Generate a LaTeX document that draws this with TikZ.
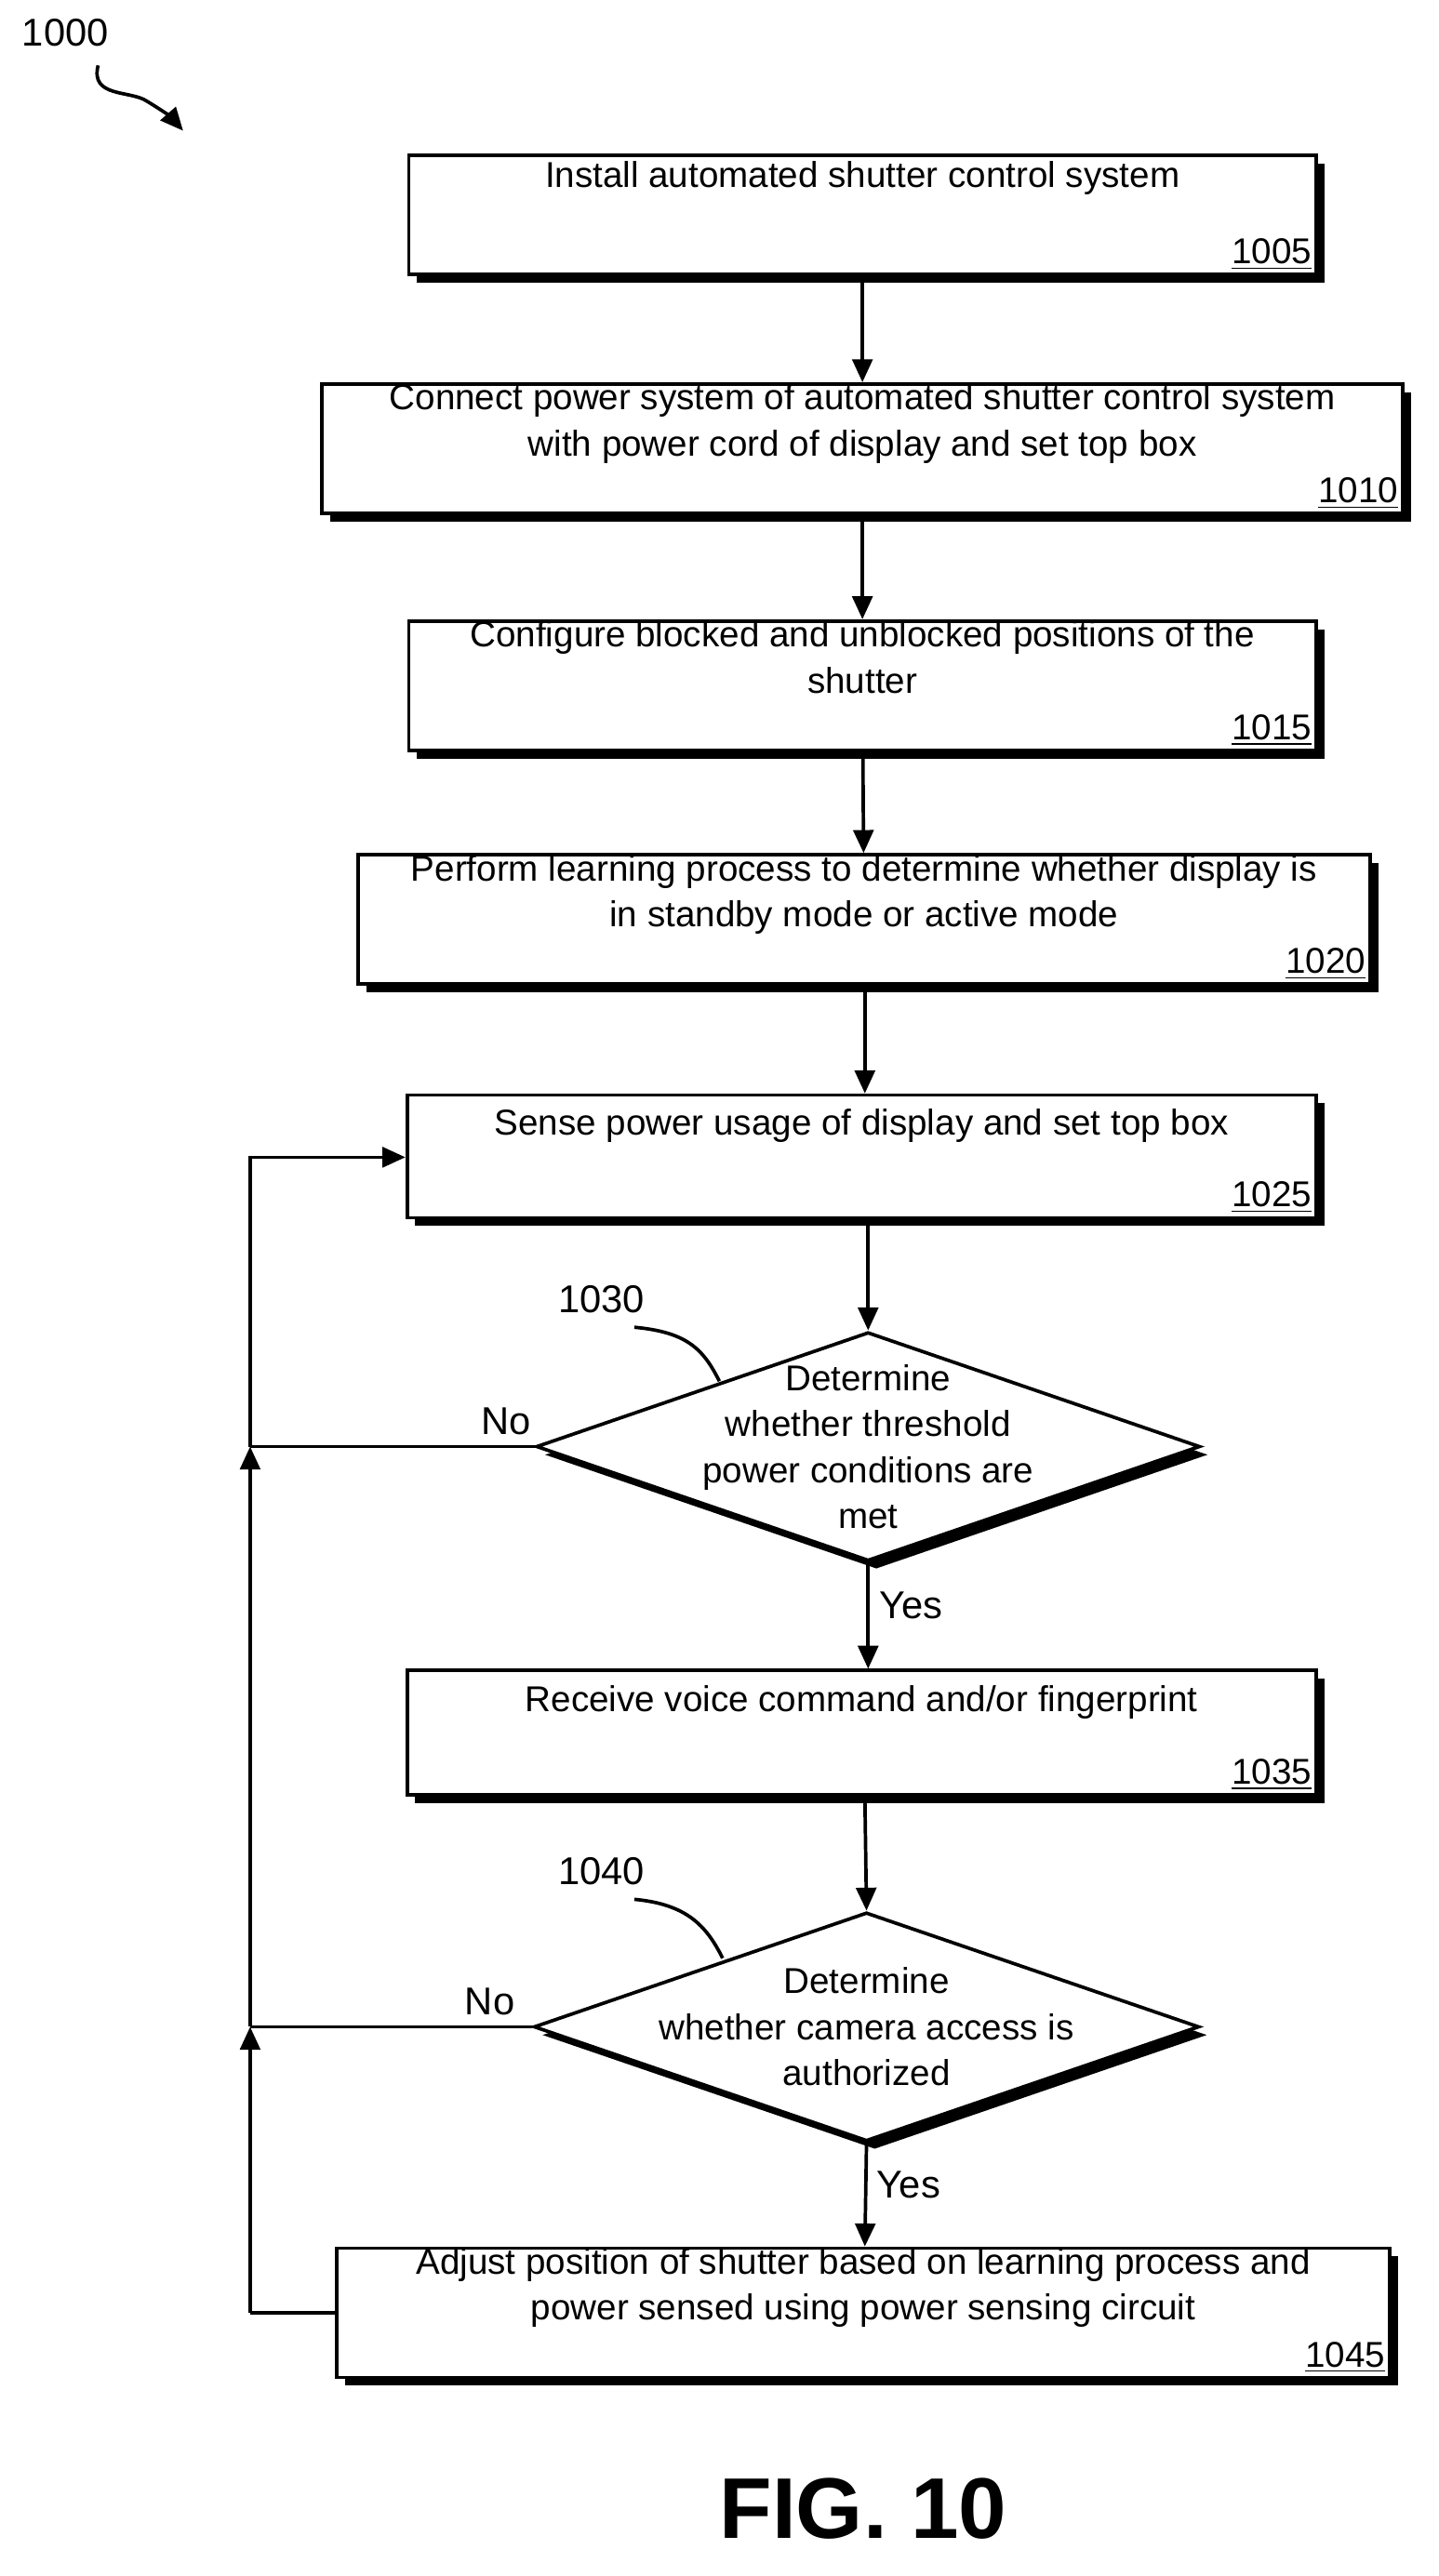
\documentclass[tikz,border=0pt]{standalone}
\usepackage{fontspec}
\setmainfont{Liberation Sans}
\usetikzlibrary{shapes.geometric,shadows,arrows.meta}
\begin{document}
\begin{tikzpicture}[x=0.02cm,y=-0.02cm,
 sh/.style={drop shadow={shadow xshift=0.1cm,shadow yshift=-0.1cm,fill=black,opacity=1}},
 box/.style={draw,line width=1.2pt,fill=white,sh,inner sep=0pt,align=center,font=\fontsize{12.5}{16}\selectfont},
 dia/.style={draw,diamond,line width=1.2pt,fill=white,sh,inner sep=0pt,align=center,font=\fontsize{12.5}{16}\selectfont},
 num/.style={font=\fontsize{12.5}{14}\selectfont,anchor=south east,inner sep=2pt},
 ar/.style={line width=1.2pt,-{Triangle[length=8pt,width=7pt]}},
 ln/.style={line width=1.2pt},
 lab/.style={font=\fontsize{13.5}{14}\selectfont}]
\useasboundingbox (0,0) rectangle (880,1576);
\newcommand{\bx}[7]{% name x1 y1 x2 y2 text num
 \node[box,minimum width={(#4-#2)*0.02cm},minimum height={(#5-#3)*0.02cm}] (#1) at ({(#2+#4)/2},{(#3+#5)/2}) {#6};
 \node[num] at (#1.south east) {\underline{#7}};}
\bx{b1}{250}{95}{805}{168}{Install automated shutter control system\\[12pt]}{1005}
\bx{b2}{197}{237}{858}{312}{Connect power system of automated shutter control system\\with power cord of display and set top box\\[4pt]}{1010}
\bx{b3}{250}{381}{805}{458}{Configure blocked and unblocked positions of the\\shutter\\[4pt]}{1015}
\bx{b4}{219}{525}{838}{600}{Perform learning process to determine whether display is\\in standby mode or active mode\\[4pt]}{1020}
\bx{b5}{249}{670}{805}{745}{Sense power usage of display and set top box\\[8pt]}{1025}
\bx{b6}{249}{1022}{805}{1098}{Receive voice command and/or fingerprint\\[8pt]}{1035}
\bx{b7}{206}{1378}{850}{1452}{Adjust position of shutter based on learning process and\\power sensed using power sensing circuit\\[4pt]}{1045}
\node[dia,minimum width=406*0.02cm,minimum height=140*0.02cm,aspect=2.9] (d1) at (531,885) {};
\node[align=center,font=\fontsize{12.5}{16}\selectfont] at (531,885) {Determine\\whether threshold\\power conditions are\\met};
\node[dia,minimum width=407*0.02cm,minimum height=140*0.02cm,aspect=2.9] (d2) at (530,1240) {};
\node[align=center,font=\fontsize{12.5}{16}\selectfont] at (530,1240) {Determine\\whether camera access is\\authorized};
\draw[ar] (b1) -- (b2);
\draw[ar] (b2) -- (b3);
\draw[ar] (b3) -- (b4);
\draw[ar] (b4.south -| 529,0) -- (b5.north -| 529,0);
\draw[ar] (b5.south -| 531,0) -- (d1.north);
\draw[ar] (d1.south) -- node[lab,right,pos=0.4]{Yes} (b6.north -| 531,0);
\draw[ar] (b6.south -| 529,0) -- (d2.north);
\draw[ar] (d2.south) -- node[lab,right,pos=0.4]{Yes} (b7.north -| 529,0);
\coordinate (c1) at (153,1415);
\coordinate (c2) at (153,1240);
\coordinate (c3) at (153,885);
\coordinate (c4) at (153,708);
\draw[ln] (b7.west |- c1) -- (c1);
\draw[ar] (c1) -- (c2);
\draw[ln] (d2.west) -- node[lab,above,pos=0.15]{No} (c2);
\draw[ar] (c2) -- (c3);
\draw[ln] (d1.west) -- node[lab,above,pos=0.1]{No} (c3);
\draw[ar] (c3) -- (c4) -- (b5.west |- c4);
\node[lab] (l1) at (368,795) {1030};
\draw[ln] (388,812) .. controls (420,815) and (430,825) .. (440,845);
\node[lab] (l2) at (368,1145) {1040};
\draw[ln] (388,1162) .. controls (420,1165) and (432,1178) .. (442,1198);
\node[lab] (l0) at (40,20) {1000};
\draw[ar] (60,40) .. controls (55,60) and (80,55) .. (90,62) .. controls (100,68) and (105,72) .. (112,80);
\node[font=\bfseries\fontsize{30}{32}\selectfont] (fig) at (528,1535) {FIG. 10};
\end{tikzpicture}
\end{document}
